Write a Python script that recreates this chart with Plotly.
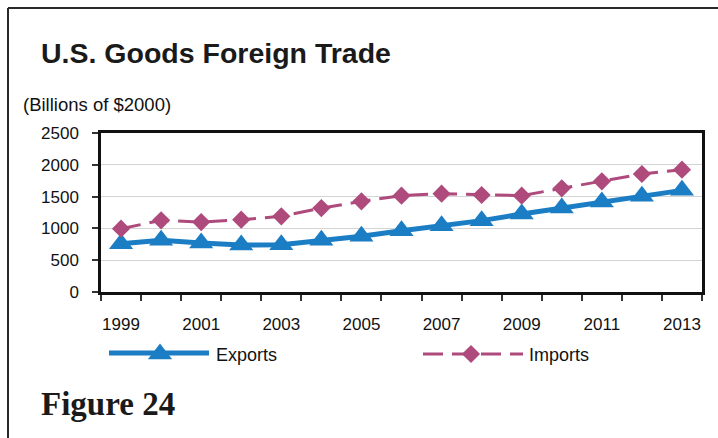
import plotly.graph_objects as go

# U.S. goods trade, billions of 2000 dollars
years = list(range(1999, 2014))
exports = [760, 812, 770, 739, 744, 812, 875, 964, 1043, 1122, 1226, 1321, 1415, 1504, 1598]
imports = [995, 1127, 1100, 1137, 1190, 1320, 1425, 1515, 1546, 1525, 1515, 1630, 1740, 1855, 1923]
label_years = list(range(1999, 2014, 2))
y_ticks = [0, 500, 1000, 1500, 2000, 2500]

W, H = 718, 438
BLUE = "#1B7DC4"
PINK = "#AE4A7C"
SANS = "Liberation Sans, Arial, sans-serif"


def fx(px):
    return px / W


def fy(py):
    return 1 - py / H


# plot frame in canvas pixels
L, R, T, B = 101, 702, 133, 292
# strip holding the legend glyphs
LG_T, LG_B = 330, 380

TRI = dict(symbol="triangle-up", size=21, color=BLUE, line=dict(width=0))
DIA = dict(symbol="diamond", size=14, color=PINK, line=dict(width=0))

fig = go.Figure()

fig.add_trace(go.Scatter(
    x=years, y=exports, name="Exports", mode="lines+markers",
    line=dict(color=BLUE, width=5), marker=TRI, showlegend=False,
))
fig.add_trace(go.Scatter(
    x=years, y=imports, name="Imports", mode="lines+markers",
    line=dict(color=PINK, width=3, dash="20px,9px"), marker=DIA, showlegend=False,
))

# a dummy trace so the year-label axis is drawn
fig.add_trace(go.Scatter(x=[years[0]], y=[None], xaxis="x2", showlegend=False, hoverinfo="skip"))

# legend glyphs on a pixel-space strip below the chart
fig.add_trace(go.Scatter(
    x=[109, 209], y=[353, 353], mode="lines", xaxis="x3", yaxis="y3",
    line=dict(color=BLUE, width=5), showlegend=False, hoverinfo="skip",
))
fig.add_trace(go.Scatter(
    x=[160], y=[354], mode="markers", xaxis="x3", yaxis="y3",
    marker=TRI, showlegend=False, hoverinfo="skip",
))
fig.add_trace(go.Scatter(
    x=[423, 523], y=[354, 354], mode="lines", xaxis="x3", yaxis="y3",
    line=dict(color=PINK, width=3, dash="20px,9px"), showlegend=False, hoverinfo="skip",
))
fig.add_trace(go.Scatter(
    x=[471], y=[354], mode="markers", xaxis="x3", yaxis="y3",
    marker=DIA, showlegend=False, hoverinfo="skip",
))

x_range = [years[0] - 0.5, years[-1] + 0.5]
boundaries = [y - 0.5 for y in years] + [years[-1] + 0.5]

fig.update_layout(
    width=W, height=H, autosize=False,
    margin=dict(l=0, r=0, t=0, b=0, pad=0, autoexpand=False),
    paper_bgcolor="white", plot_bgcolor="rgba(0,0,0,0)",
    font=dict(family=SANS, size=17, color="#111"),
    xaxis=dict(
        domain=[fx(L), fx(R)], range=x_range,
        tickmode="array", tickvals=boundaries, ticktext=["" for _ in boundaries],
        ticks="outside", ticklen=6, tickwidth=1.5, tickcolor="#333",
        showline=True, linewidth=2.5, linecolor="#111", mirror=True,
        showgrid=False, zeroline=False, fixedrange=True,
    ),
    xaxis2=dict(
        range=x_range, overlaying="x", anchor="y",
        tickmode="array", tickvals=label_years, ticktext=[str(y) for y in label_years],
        ticks="", showline=False, showgrid=False, zeroline=False,
        ticklabelstandoff=20, tickfont=dict(family=SANS, size=17, color="#111"),
    ),
    yaxis=dict(
        domain=[fy(B), fy(T)], range=[0, 2500],
        tickmode="array", tickvals=y_ticks,
        ticks="outside", ticklen=6, tickwidth=1.5, tickcolor="#333",
        showline=True, linewidth=2.5, linecolor="#111", mirror=True,
        showgrid=True, gridcolor="#d4d4d4", gridwidth=1,
        zeroline=False, ticklabelstandoff=10,
        tickfont=dict(family=SANS, size=17, color="#111"),
    ),
    xaxis3=dict(domain=[0, 1], range=[0, W], visible=False, fixedrange=True, anchor="y3"),
    yaxis3=dict(domain=[fy(LG_B), fy(LG_T)], range=[LG_B, LG_T], visible=False,
                fixedrange=True, anchor="x3"),
)

annotations = [
    dict(text="<b>U.S. Goods Foreign Trade</b>", x=fx(39), y=fy(53), xanchor="left", yanchor="middle",
         font=dict(family=SANS, size=28.5, color="#1a1a1a")),
    dict(text="(Billions of $2000)", x=fx(21), y=fy(105), xanchor="left", yanchor="middle",
         font=dict(family=SANS, size=18.5, color="#111")),
    dict(text="Exports", x=fx(214), y=fy(355), xanchor="left", yanchor="middle",
         font=dict(family=SANS, size=18, color="#111")),
    dict(text="Imports", x=fx(527), y=fy(355), xanchor="left", yanchor="middle",
         font=dict(family=SANS, size=18, color="#111")),
    dict(text="<b>Figure 24</b>", x=fx(39), y=fy(404), xanchor="left", yanchor="middle",
         font=dict(family="Liberation Serif, Times New Roman, serif", size=33, color="#1a1a1a")),
]
for a in annotations:
    a.update(xref="paper", yref="paper", showarrow=False)
fig.update_layout(annotations=annotations)

# outer page frame (top and left rules)
fig.update_layout(shapes=[
    dict(type="line", xref="paper", yref="paper", x0=fx(8), x1=1, y0=fy(8), y1=fy(8),
         line=dict(color="#2a2a2a", width=2)),
    dict(type="line", xref="paper", yref="paper", x0=fx(8), x1=fx(8), y0=fy(8), y1=0,
         line=dict(color="#2a2a2a", width=2)),
])

fig.write_html("out.html")
